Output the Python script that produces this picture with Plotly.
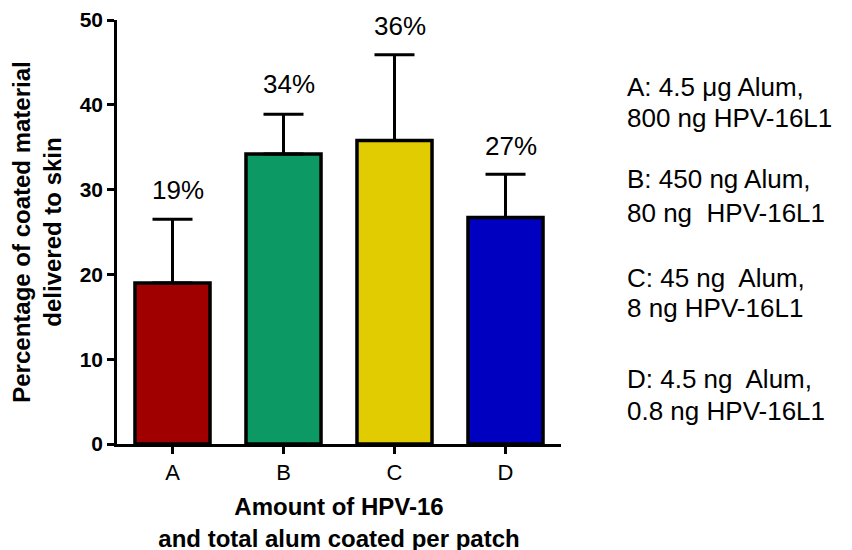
import plotly.graph_objects as go

categories = ["A", "B", "C", "D"]
values = [19.0, 34.2, 35.8, 26.7]
error_tops = [26.5, 38.9, 45.9, 31.8]
bar_colors = ["#A00000", "#0D9963", "#E0CC00", "#0000C0"]
pct_labels = ["19%", "34%", "36%", "27%"]
pct_label_y = [30.0, 42.4, 49.3, 35.2]
legend_lines = [
    "A: 4.5 \u03bcg Alum,", "800 ng HPV-16L1",
    "B: 450 ng Alum,", "80 ng  HPV-16L1",
    "C: 45 ng  Alum,", "8 ng HPV-16L1",
    "D: 4.5 ng  Alum,", "0.8 ng HPV-16L1",
]
legend_line_y = [42.1, 38.4, 31.2, 27.3, 19.6, 16.0, 7.7, 3.9]

FONT = "Arial, Liberation Sans, sans-serif"

err_plus = [t - v for t, v in zip(error_tops, values)]

fig = go.Figure()
fig.add_trace(go.Bar(
    x=categories, y=values,
    marker=dict(color=bar_colors, line=dict(color="black", width=3.5)),
    error_y=dict(type="data", symmetric=False, array=err_plus,
                 arrayminus=[0] * len(values), color="black",
                 thickness=3, width=20),
    showlegend=False,
))

for c, lab, y in zip(categories, pct_labels, pct_label_y):
    fig.add_annotation(x=c, y=y, xref="x", yref="y", text=lab, showarrow=False,
                       xshift=5, font=dict(family=FONT, size=26, color="black"))

for txt, y in zip(legend_lines, legend_line_y):
    fig.add_annotation(x=1.1445, y=y, xref="paper", yref="y", text=txt,
                       showarrow=False, xanchor="left", yanchor="middle",
                       font=dict(family=FONT, size=26, color="black"))

fig.update_layout(
    width=852, height=550,
    margin=dict(l=109, r=299, t=12, b=114),
    paper_bgcolor="white", plot_bgcolor="white",
    bargap=0.324,
    font=dict(family=FONT, color="black"),
)
fig.update_xaxes(
    range=[-0.5, 3.5], showline=True, linecolor="black", linewidth=2.5,
    ticks="outside", ticklen=7, tickwidth=2.5, tickcolor="black",
    tickfont=dict(family=FONT, size=22, color="black"),
    showgrid=False, zeroline=False, automargin=False,
    title=dict(text="<b>Amount of HPV-16<br>and total alum coated per patch</b>",
               font=dict(family=FONT, size=24, color="black"), standoff=15),
)
fig.update_yaxes(
    range=[0, 50], tickvals=[0, 10, 20, 30, 40, 50],
    ticktext=["<b>0</b>", "<b>10</b>", "<b>20</b>", "<b>30</b>", "<b>40</b>", "<b>50</b>"],
    showline=True, linecolor="black", linewidth=2.5,
    ticks="outside", ticklen=7, tickwidth=2.5, tickcolor="black",
    tickfont=dict(family=FONT, size=21, color="black"),
    ticklabeloverflow="allow",
    showgrid=False, zeroline=False, automargin=False,
    title=dict(text="<b>Percentage of coated material<br>delivered to skin</b>",
               font=dict(family=FONT, size=24, color="black"), standoff=14),
)

fig.write_html("out.html")
